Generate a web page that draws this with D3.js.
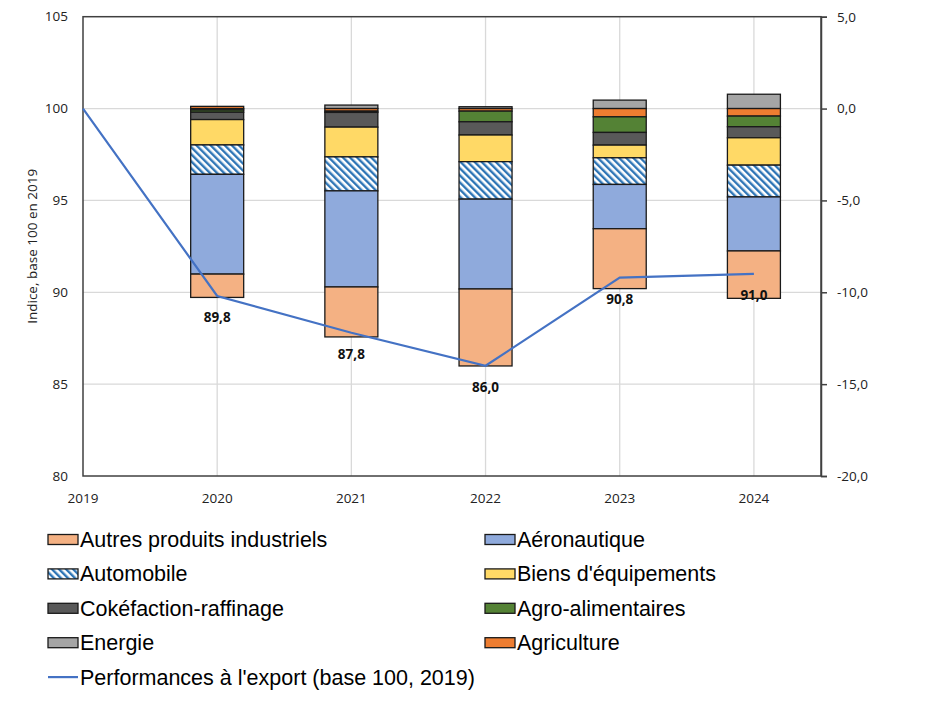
<!DOCTYPE html>
<html>
<head>
<meta charset="utf-8">
<script src="https://cdn.jsdelivr.net/npm/d3@7"></script>
<style>
  body { margin: 0; background: #fff; }
  svg { display: block; }
  .tick-label { font-family: "Open Sans", sans-serif; font-size: 13.5px; fill: #222; }
  .legend text { font-family: "Liberation Sans", Arial, sans-serif; font-size: 21.5px; fill: #000; }
</style>
</head>
<body>
<svg id="chart" width="952" height="709"></svg>
<script>
// ---- data ----
var years = ["2019", "2020", "2021", "2022", "2023", "2024"];
var barYears = ["2020", "2021", "2022", "2023", "2024"];

// contributions, points of %, right axis
var autres      = [-1.27, -2.72, -4.19, -3.26, -2.58];
var aero        = [-5.43, -5.23, -4.89, -2.41, -2.94];
var automobile  = [-1.60, -1.85, -2.04, -1.45, -1.73];
var biens       = [-1.38, -1.62, -1.45, -0.69, -1.49];
var coke        = [-0.40, -0.80, -0.72, -0.69, -0.60];
var agro        = [-0.12, -0.07, -0.58, -0.85, -0.58];
var energie     = [-0.08,  0.19,  0.10,  0.46,  0.78];
var agriculture = [ 0.12, -0.14, -0.14, -0.45, -0.41];

// export performance index, left axis
var perf = [100, 89.8, 87.8, 86.0, 90.8, 91.0];

var leftTicks = [80, 85, 90, 95, 100, 105];
var rightTicks = [-20, -15, -10, -5, 0, 5];

// ---- series definitions (legend order) ----
var series = [
    { key: "autres",      label: "Autres produits industriels", values: autres,      fill: "#f4b183" },
    { key: "aero",        label: "Aéronautique",                values: aero,        fill: "#8faadc" },
    { key: "automobile",  label: "Automobile",                  values: automobile,  fill: "url(#hatch)" },
    { key: "biens",       label: "Biens d'équipements",         values: biens,       fill: "#ffd966" },
    { key: "coke",        label: "Cokéfaction-raffinage",       values: coke,        fill: "#595959" },
    { key: "agro",        label: "Agro-alimentaires",           values: agro,        fill: "#548235" },
    { key: "energie",     label: "Energie",                     values: energie,     fill: "#a5a5a5" },
    { key: "agriculture", label: "Agriculture",                 values: agriculture, fill: "#ed7d31" }
];
// stacking order outward from zero
var stackKeys = ["energie", "agriculture", "agro", "coke", "biens", "automobile", "aero", "autres"];

var LINE_COLOR = "#4472c4";

var svg = d3.select("#chart");
var margin = { left: 83, right: 131, top: 16.7, bottom: 233 };
var W = 952, H = 709;
var x0 = margin.left, x1 = W - margin.right;
var yTop = margin.top, yBot = H - margin.bottom;

var x = d3.scaleLinear().domain([0, 5.5]).range([x0, x1]);
var yL = d3.scaleLinear().domain([80, 105]).range([yBot, yTop]);
var yR = d3.scaleLinear().domain([-20, 5]).range([yBot, yTop]);

// hatch pattern for Automobile
var defs = svg.append("defs");
defs.append("pattern")
    .attr("id", "hatch")
    .attr("patternUnits", "userSpaceOnUse")
    .attr("width", 5).attr("height", 5)
    .attr("patternTransform", "rotate(-45)")
    .call(function (p) {
        p.append("rect").attr("width", 5).attr("height", 5).attr("fill", "#fff");
        p.append("rect").attr("width", 2.4).attr("height", 5).attr("fill", "#2e75b6");
    });

// gridlines
var grid = svg.append("g").attr("class", "grid");
grid.selectAll(".hgrid")
    .data(leftTicks.filter(function (d) { return d > 80 && d < 105; }))
    .enter().append("line")
    .attr("x1", x0).attr("x2", x1)
    .attr("y1", function (d) { return yL(d); })
    .attr("y2", function (d) { return yL(d); })
    .attr("stroke", "#d9d9d9").attr("stroke-width", 1.3);
grid.selectAll(".vgrid")
    .data(years.slice(1))
    .enter().append("line")
    .attr("x1", function (d) { return x(years.indexOf(d)); })
    .attr("x2", function (d) { return x(years.indexOf(d)); })
    .attr("y1", yTop).attr("y2", yBot)
    .attr("stroke", "#d9d9d9").attr("stroke-width", 1.3);

// stacked bars
var rows = barYears.map(function (yr, i) {
    var r = { year: yr };
    series.forEach(function (s) { r[s.key] = s.values[i]; });
    return r;
});
var stacked = d3.stack()
    .keys(stackKeys)
    .offset(d3.stackOffsetDiverging)(rows);

var fillByKey = {};
series.forEach(function (s) { fillByKey[s.key] = s.fill; });

var BAR_W = 53;
var bars = svg.append("g").attr("class", "bars");
bars.selectAll("g")
    .data(stacked)
    .enter().append("g")
    .attr("fill", function (d) { return fillByKey[d.key]; })
    .selectAll("rect")
    .data(function (d) { return d; })
    .enter().append("rect")
    .attr("x", function (d) { return x(years.indexOf(d.data.year)) - BAR_W / 2; })
    .attr("width", BAR_W)
    .attr("y", function (d) { return yR(Math.max(d[0], d[1])); })
    .attr("height", function (d) { return Math.abs(yR(d[0]) - yR(d[1])); })
    .attr("stroke", "#1a1a1a").attr("stroke-width", 1.3);

// frame and axes
var axisColor = "#404040";
svg.append("rect")
    .attr("x", x0).attr("y", yTop)
    .attr("width", x1 - x0).attr("height", yBot - yTop)
    .attr("fill", "none").attr("stroke", axisColor).attr("stroke-width", 1.5);

// left axis labels
svg.append("g").selectAll("text")
    .data(leftTicks)
    .enter().append("text")
    .attr("class", "tick-label")
    .attr("x", 68).attr("y", function (d) { return yL(d); })
    .attr("dy", "0.35em")
    .attr("text-anchor", "end")
    .text(function (d) { return d; });

// right axis with ticks
var rightAxis = svg.append("g")
    .attr("transform", "translate(" + x1 + ",0)")
    .call(d3.axisRight(yR)
        .tickValues(rightTicks)
        .tickSize(6)
        .tickPadding(10)
        .tickFormat(function (d) { return d3.format(".1f")(d).replace(".", ",").replace("−", "-"); }));
rightAxis.select(".domain").attr("stroke", axisColor).attr("stroke-width", 1.5);
rightAxis.selectAll(".tick line").attr("stroke", axisColor).attr("stroke-width", 1.5);
rightAxis.selectAll(".tick text")
    .attr("class", "tick-label")
    .attr("font-family", null).attr("font-size", null);

// x axis labels
svg.append("g").selectAll("text")
    .data(years)
    .enter().append("text")
    .attr("class", "tick-label")
    .attr("x", function (d, i) { return x(i); })
    .attr("y", 503)
    .attr("text-anchor", "middle")
    .text(function (d) { return d; });

// y axis title
svg.append("text")
    .attr("class", "tick-label")
    .attr("transform", "translate(37," + (yL(92.5)) + ") rotate(-90)")
    .attr("text-anchor", "middle")
    .text("Indice, base 100 en 2019");

// performance line
var line = d3.line()
    .x(function (d, i) { return x(i); })
    .y(function (d) { return yL(d); });
svg.append("path")
    .datum(perf)
    .attr("d", line)
    .attr("fill", "none")
    .attr("stroke", LINE_COLOR)
    .attr("stroke-width", 2.2);

// data labels
svg.append("g").selectAll("text")
    .data(perf.slice(1))
    .enter().append("text")
    .attr("x", function (d, i) { return x(i + 1); })
    .attr("y", function (d) { return yL(d) + 26; })
    .attr("text-anchor", "middle")
    .attr("font-family", "'Open Sans', sans-serif")
    .attr("font-size", 13.5)
    .attr("font-weight", "bold")
    .attr("fill", "#111")
    .text(function (d) { return d3.format(".1f")(d).replace(".", ","); });

// legend, two columns
var legend = svg.append("g").attr("class", "legend");
var ROW_H = 34.4, LEG_Y = 539.5;
var colX = [48, 485];
series.forEach(function (s, i) {
    var gx = colX[i % 2], gy = LEG_Y + Math.floor(i / 2) * ROW_H;
    var g = legend.append("g").attr("transform", "translate(" + gx + "," + gy + ")");
    g.append("rect")
        .attr("x", 0).attr("y", -5)
        .attr("width", 30).attr("height", 10)
        .attr("fill", s.fill)
        .attr("stroke", "#1a1a1a").attr("stroke-width", 1.3);
    g.append("text")
        .attr("x", 32).attr("y", 0)
        .attr("dy", "0.35em")
        .text(s.label);
});
var lg = legend.append("g")
    .attr("transform", "translate(" + colX[0] + "," + (LEG_Y + 4 * ROW_H) + ")");
lg.append("line")
    .attr("x1", 0).attr("x2", 30)
    .attr("stroke", LINE_COLOR).attr("stroke-width", 2.2);
lg.append("text")
    .attr("x", 32).attr("dy", "0.35em")
    .text("Performances à l'export (base 100, 2019)");
</script>
</body>
</html>
